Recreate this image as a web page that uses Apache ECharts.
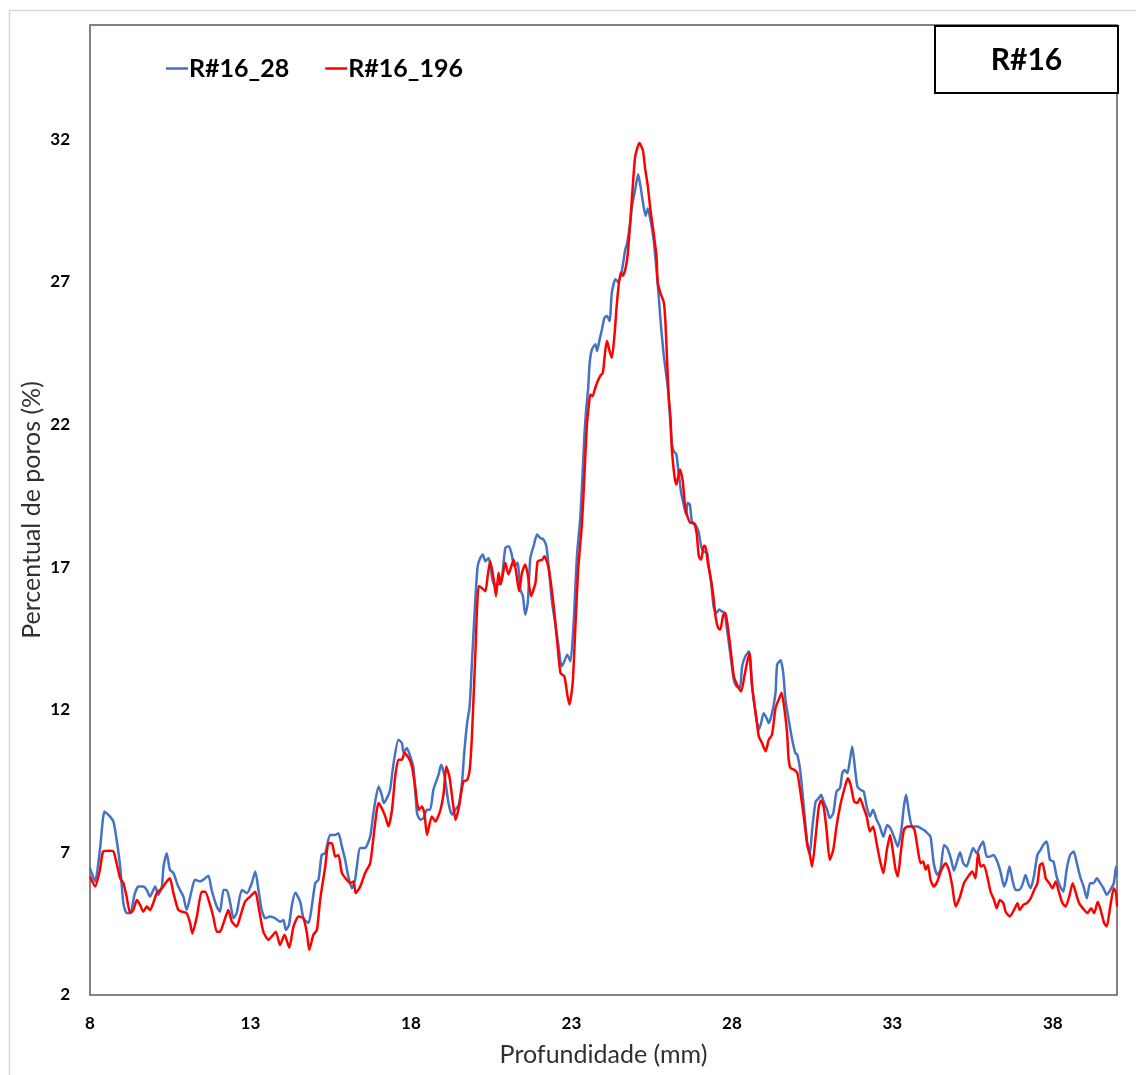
<!DOCTYPE html>
<html>
<head>
<meta charset="utf-8">
<script src="https://cdn.jsdelivr.net/npm/echarts@6/dist/echarts.min.js"></script>
<style>
  html, body { margin: 0; padding: 0; background: #ffffff; }
  #chart { width: 1136px; height: 1075px; }
</style>
</head>
<body>
<div id="chart"></div>
<script>
// Pore-percentage profiles of sample R#16 against depth (mm)
const depth28 = [
  8.00, 8.16, 8.31, 8.45, 8.57, 8.73, 8.83, 8.94, 9.04, 9.14, 9.25, 9.40, 9.51, 9.66, 9.77, 9.87,
  10.03, 10.13, 10.24, 10.29, 10.39, 10.49, 10.60, 10.75, 10.91, 11.01, 11.17, 11.27, 11.43, 11.53, 11.69, 11.79,
  11.95, 12.05, 12.16, 12.26, 12.37, 12.47, 12.57, 12.73, 12.89, 13.04, 13.15, 13.25, 13.35, 13.46, 13.61, 13.77,
  13.92, 14.03, 14.10, 14.20, 14.29, 14.40, 14.55, 14.65, 14.81, 14.91, 15.02, 15.12, 15.22, 15.33, 15.48, 15.64,
  15.74, 15.85, 15.95, 16.05, 16.16, 16.26, 16.42, 16.57, 16.73, 16.83, 16.99, 17.09, 17.15, 17.25, 17.35, 17.46,
  17.61, 17.72, 17.77, 17.87, 17.98, 18.08, 18.19, 18.29, 18.39, 18.50, 18.60, 18.70, 18.86, 18.94, 19.05, 19.17,
  19.28, 19.38, 19.49, 19.59, 19.66, 19.75, 19.83, 19.90, 20.00, 20.08, 20.16, 20.24, 20.32, 20.42, 20.47, 20.58,
  20.73, 20.84, 20.94, 21.04, 21.13, 21.22, 21.32, 21.41, 21.49, 21.56, 21.64, 21.72, 21.82, 21.93, 22.03, 22.13,
  22.22, 22.29, 22.40, 22.50, 22.60, 22.69, 22.76, 22.87, 22.97, 23.07, 23.14, 23.18, 23.28, 23.35, 23.41, 23.46,
  23.52, 23.57, 23.64, 23.75, 23.80, 23.88, 23.95, 24.03, 24.11, 24.19, 24.26, 24.37, 24.47, 24.58, 24.68, 24.73,
  24.82, 24.89, 24.99, 25.08, 25.15, 25.23, 25.31, 25.38, 25.46, 25.56, 25.65, 25.72, 25.79, 25.88, 25.96, 26.03,
  26.13, 26.19, 26.27, 26.34, 26.42, 26.50, 26.57, 26.62, 26.69, 26.76, 26.86, 26.97, 27.04, 27.12, 27.23, 27.28,
  27.35, 27.43, 27.52, 27.60, 27.68, 27.77, 27.85, 27.96, 28.06, 28.14, 28.25, 28.32, 28.42, 28.53, 28.63, 28.74,
  28.84, 28.91, 28.99, 29.08, 29.15, 29.25, 29.36, 29.41, 29.52, 29.60, 29.67, 29.77, 29.88, 29.98, 30.04, 30.14,
  30.24, 30.35, 30.43, 30.50, 30.61, 30.71, 30.78, 30.86, 30.97, 31.05, 31.16, 31.26, 31.37, 31.44, 31.51, 31.60,
  31.68, 31.75, 31.83, 31.91, 32.01, 32.11, 32.20, 32.30, 32.40, 32.51, 32.61, 32.72, 32.84, 32.94, 33.05, 33.17,
  33.28, 33.36, 33.43, 33.52, 33.62, 33.78, 33.88, 33.98, 34.09, 34.19, 34.29, 34.40, 34.50, 34.61, 34.71, 34.82,
  34.92, 35.02, 35.11, 35.21, 35.31, 35.42, 35.52, 35.63, 35.73, 35.83, 35.94, 36.04, 36.15, 36.27, 36.38, 36.48,
  36.56, 36.65, 36.74, 36.84, 36.95, 37.05, 37.15, 37.23, 37.31, 37.41, 37.52, 37.62, 37.70, 37.81, 37.91, 38.02,
  38.12, 38.23, 38.33, 38.43, 38.54, 38.65, 38.75, 38.85, 38.96, 39.06, 39.16, 39.27, 39.37, 39.48, 39.58, 39.68,
  39.79, 39.90, 39.97, 40.00
];
const pores28 = [
  6.45, 5.98, 7.09, 8.43, 8.32, 8.08, 7.44, 6.50, 5.22, 4.87, 4.87, 5.57, 5.80, 5.80, 5.68, 5.45,
  5.80, 5.51, 5.80, 6.50, 6.97, 6.39, 6.27, 5.80, 5.45, 4.98, 5.68, 6.04, 5.98, 6.04, 6.18, 5.68,
  5.10, 4.92, 5.68, 5.68, 5.22, 4.69, 4.87, 5.68, 5.57, 5.92, 6.33, 5.68, 4.98, 4.69, 4.75, 4.69,
  4.57, 4.63, 4.28, 4.45, 5.15, 5.58, 5.27, 4.69, 4.52, 5.10, 5.92, 6.04, 6.91, 6.97, 7.61, 7.61,
  7.67, 7.20, 6.74, 6.15, 5.74, 6.04, 7.15, 7.15, 7.55, 8.37, 9.31, 9.02, 8.73, 8.90, 9.19, 10.13,
  10.95, 10.83, 10.48, 10.66, 10.36, 9.95, 8.37, 8.14, 8.20, 8.49, 8.49, 9.19, 9.72, 10.07, 9.66, 8.73,
  8.32, 8.49, 8.67, 9.43, 10.48, 11.53, 12.12, 13.64, 15.74, 17.03, 17.32, 17.44, 17.20, 17.32, 17.09, 16.39,
  16.39, 16.68, 17.67, 17.73, 17.50, 17.03, 17.15, 16.21, 15.98, 15.33, 15.74, 17.32, 17.73, 18.14, 18.02, 17.97,
  17.73, 17.03, 15.74, 15.00, 14.22, 13.52, 13.64, 13.93, 13.69, 15.04, 16.68, 17.50, 18.78, 20.31, 21.71, 22.53,
  23.23, 24.16, 24.63, 24.81, 24.57, 24.98, 25.33, 25.74, 25.80, 25.62, 26.62, 27.09, 26.97, 27.44, 28.14, 28.32,
  28.96, 29.66, 30.25, 30.77, 30.36, 29.78, 29.31, 29.57, 29.19, 28.49, 27.44, 26.50, 25.45, 24.40, 23.70, 22.99,
  21.30, 21.06, 20.95, 20.31, 19.60, 19.19, 18.84, 19.25, 19.19, 18.55, 18.49, 18.20, 17.73, 17.55, 17.50, 17.03,
  16.50, 15.62, 15.39, 15.51, 15.45, 15.39, 14.81, 13.87, 13.05, 12.82, 12.76, 13.52, 13.87, 14.05, 12.82, 11.88,
  11.30, 11.53, 11.88, 11.71, 11.53, 11.88, 12.59, 13.58, 13.73, 13.29, 12.35, 11.65, 10.95, 10.48, 10.42, 9.78,
  8.61, 7.32, 6.97, 7.79, 8.78, 8.90, 9.02, 8.78, 8.49, 8.20, 8.37, 9.13, 9.25, 9.78, 9.89, 9.78,
  10.25, 10.71, 10.01, 9.31, 9.19, 9.13, 8.61, 8.26, 8.49, 8.14, 7.91, 7.55, 7.96, 7.85, 7.55, 7.20,
  7.79, 8.61, 9.02, 8.37, 7.91, 7.91, 7.85, 7.79, 7.67, 7.55, 6.62, 6.21, 6.39, 7.26, 7.15, 6.80,
  6.36, 6.70, 7.00, 6.62, 6.50, 6.85, 7.15, 6.97, 7.20, 7.38, 6.85, 6.85, 6.91, 6.68, 6.27, 5.80,
  6.04, 6.50, 6.04, 5.68, 5.68, 5.86, 6.21, 5.92, 5.74, 6.15, 6.91, 7.09, 7.26, 7.38, 6.74, 6.68,
  6.15, 5.80, 5.62, 6.39, 6.91, 7.03, 6.62, 6.15, 5.80, 5.39, 5.92, 5.92, 6.09, 5.92, 5.74, 5.51,
  5.68, 5.92, 6.50, 6.15
];

const depth196 = [
  8.00, 8.16, 8.31, 8.41, 8.62, 8.73, 8.83, 8.94, 9.04, 9.14, 9.25, 9.35, 9.46, 9.56, 9.66, 9.77,
  9.87, 9.97, 10.08, 10.24, 10.39, 10.49, 10.60, 10.75, 10.86, 11.01, 11.12, 11.19, 11.33, 11.48, 11.59, 11.74,
  11.84, 11.95, 12.05, 12.16, 12.31, 12.42, 12.57, 12.68, 12.83, 12.99, 13.15, 13.25, 13.40, 13.56, 13.66, 13.79,
  13.92, 14.06, 14.21, 14.34, 14.50, 14.65, 14.76, 14.83, 14.96, 15.07, 15.17, 15.33, 15.43, 15.54, 15.64, 15.74,
  15.85, 16.00, 16.11, 16.21, 16.28, 16.42, 16.57, 16.73, 16.83, 16.99, 17.09, 17.20, 17.30, 17.41, 17.51, 17.61,
  17.72, 17.80, 17.93, 18.03, 18.13, 18.24, 18.34, 18.42, 18.50, 18.65, 18.76, 18.91, 19.02, 19.10, 19.20, 19.30,
  19.39, 19.50, 19.63, 19.75, 19.83, 19.90, 20.00, 20.11, 20.21, 20.32, 20.39, 20.47, 20.58, 20.65, 20.73, 20.80,
  20.94, 21.04, 21.20, 21.28, 21.37, 21.46, 21.56, 21.64, 21.74, 21.88, 21.95, 22.09, 22.16, 22.29, 22.45, 22.56,
  22.66, 22.78, 22.88, 22.94, 23.04, 23.12, 23.21, 23.33, 23.41, 23.48, 23.54, 23.59, 23.66, 23.73, 23.80, 23.90,
  23.98, 24.06, 24.11, 24.19, 24.26, 24.34, 24.42, 24.53, 24.60, 24.68, 24.75, 24.84, 24.92, 24.99, 25.12, 25.23,
  25.30, 25.38, 25.46, 25.56, 25.65, 25.69, 25.77, 25.88, 25.93, 25.98, 26.03, 26.09, 26.13, 26.21, 26.27, 26.38,
  26.47, 26.53, 26.60, 26.71, 26.81, 26.90, 26.97, 27.04, 27.12, 27.17, 27.25, 27.33, 27.41, 27.49, 27.57, 27.64,
  27.73, 27.80, 27.87, 27.96, 28.06, 28.16, 28.29, 28.39, 28.47, 28.55, 28.63, 28.74, 28.84, 28.94, 29.05, 29.15,
  29.25, 29.36, 29.46, 29.55, 29.64, 29.72, 29.77, 29.83, 29.95, 30.04, 30.14, 30.24, 30.35, 30.43, 30.50, 30.61,
  30.71, 30.78, 30.86, 30.95, 31.05, 31.16, 31.26, 31.37, 31.47, 31.54, 31.61, 31.70, 31.81, 31.91, 31.99, 32.09,
  32.20, 32.30, 32.40, 32.51, 32.61, 32.72, 32.83, 32.93, 33.01, 33.10, 33.17, 33.26, 33.36, 33.47, 33.60, 33.69,
  33.78, 33.88, 33.96, 34.04, 34.11, 34.19, 34.29, 34.40, 34.53, 34.66, 34.76, 34.87, 34.97, 35.11, 35.23, 35.36,
  35.49, 35.59, 35.67, 35.75, 35.85, 35.96, 36.06, 36.17, 36.25, 36.35, 36.46, 36.53, 36.66, 36.79, 36.90, 36.97,
  37.08, 37.19, 37.31, 37.42, 37.52, 37.60, 37.68, 37.78, 37.89, 37.99, 38.09, 38.20, 38.30, 38.40, 38.51, 38.62,
  38.72, 38.82, 38.98, 39.08, 39.19, 39.29, 39.40, 39.49, 39.60, 39.68, 39.79, 39.90, 39.97, 40.00
];
const pores196 = [
  6.15, 5.80, 6.39, 7.03, 7.06, 7.03, 6.62, 6.09, 5.92, 5.45, 4.87, 4.98, 5.33, 5.16, 4.92, 5.10,
  4.98, 5.22, 5.57, 5.74, 5.98, 6.09, 5.57, 4.98, 4.92, 4.87, 4.52, 4.16, 4.75, 5.62, 5.62, 5.16,
  4.75, 4.22, 4.22, 4.52, 4.98, 4.57, 4.40, 4.75, 5.27, 5.45, 5.62, 5.10, 4.22, 3.93, 4.05, 4.22,
  3.75, 4.11, 3.66, 4.40, 4.75, 4.69, 4.16, 3.58, 4.11, 4.28, 5.33, 6.50, 7.32, 7.32, 6.85, 6.91,
  6.27, 6.04, 5.92, 5.98, 5.57, 5.80, 6.27, 6.62, 7.50, 8.73, 8.55, 8.26, 7.91, 8.49, 9.66, 10.25,
  10.25, 10.48, 10.31, 10.01, 9.31, 8.49, 8.61, 8.37, 7.61, 8.26, 8.08, 8.45, 9.08, 10.01, 9.65, 8.80,
  8.14, 8.61, 9.48, 9.54, 9.89, 11.06, 13.75, 16.33, 16.27, 16.15, 16.68, 17.20, 16.56, 15.98, 16.80, 16.39,
  17.15, 16.74, 17.26, 16.80, 16.15, 16.80, 17.09, 16.74, 15.98, 16.45, 17.20, 17.26, 17.38, 16.97, 15.62, 14.34,
  13.29, 13.17, 12.47, 12.18, 12.94, 14.81, 16.91, 18.55, 20.31, 21.94, 22.64, 23.05, 22.99, 23.23, 23.46, 23.70,
  23.81, 24.63, 24.92, 24.57, 24.34, 25.10, 26.27, 27.32, 27.21, 27.44, 27.91, 29.19, 30.48, 31.41, 31.86, 31.59,
  30.95, 30.36, 29.54, 28.73, 27.91, 26.97, 26.62, 26.27, 25.57, 24.28, 22.99, 22.18, 21.12, 20.19, 19.89, 20.42,
  20.01, 19.25, 18.84, 18.55, 18.55, 18.20, 17.38, 17.26, 17.73, 17.75, 17.15, 16.68, 16.10, 15.27, 14.87, 14.81,
  15.33, 15.39, 14.92, 14.11, 13.17, 12.88, 12.64, 13.17, 13.64, 13.99, 12.82, 11.88, 11.06, 10.83, 10.54, 10.95,
  11.12, 12.06, 12.35, 12.59, 12.00, 11.18, 10.25, 9.95, 9.89, 9.78, 9.08, 8.26, 7.26, 6.91, 6.50, 7.55,
  8.61, 8.82, 8.61, 7.79, 6.74, 7.09, 7.91, 8.61, 9.08, 9.37, 9.60, 9.37, 8.78, 8.73, 8.90, 8.61,
  8.26, 7.73, 7.91, 7.32, 6.74, 6.27, 7.09, 7.61, 7.09, 6.39, 6.15, 6.97, 7.79, 7.91, 7.91, 7.79,
  7.20, 6.62, 6.68, 6.39, 6.56, 6.04, 5.80, 5.98, 6.39, 6.62, 6.39, 5.80, 5.10, 5.45, 5.92, 6.15,
  6.33, 6.09, 6.97, 6.50, 6.56, 6.15, 5.62, 5.33, 5.04, 5.33, 5.22, 4.92, 4.75, 4.98, 5.22, 4.98,
  5.16, 5.22, 5.39, 5.68, 5.92, 6.56, 6.62, 6.09, 5.92, 5.74, 5.98, 5.57, 5.22, 5.10, 5.45, 5.92,
  5.57, 5.22, 4.98, 4.87, 5.04, 4.87, 5.27, 4.98, 4.52, 4.40, 5.10, 5.74, 5.57, 5.10
];

const seriesNames = ['R#16_28', 'R#16_196'];
const seriesColors = ['#4472C4', '#FF0000'];
const panelTitle = 'R#16';
const xAxisTitle = 'Profundidade (mm)';
const yAxisTitle = 'Percentual de poros (%)';

const zip = (xs, ys) => xs.map((x, i) => [x, ys[i]]);

const FONT = 'Lato, "Open Sans", sans-serif';
const chart = echarts.init(document.getElementById('chart'), null, { renderer: 'canvas' });

chart.setOption({
  backgroundColor: '#ffffff',
  animation: false,
  grid: {
    left: 90, top: 25, right: 19, bottom: 80,
    show: true, borderColor: '#595959', borderWidth: 1.5, backgroundColor: 'transparent'
  },
  legend: {
    left: 161, top: 51,
    itemWidth: 22, itemHeight: 2.5, itemGap: 36,
    textStyle: { fontFamily: FONT, fontWeight: 'bold', fontSize: 25, color: '#000000', padding: [0, 0, 0, -4] },
    data: seriesNames.map(n => ({ name: n, icon: 'rect' })),
    itemStyle: { borderWidth: 0 }
  },
  xAxis: {
    type: 'value', min: 8, max: 40, interval: 5,
    name: xAxisTitle, nameLocation: 'middle', nameGap: 47, nameMoveOverlap: false,
    nameTextStyle: { fontFamily: FONT, fontSize: 25, color: '#303030' },
    axisLine: { show: false }, axisTick: { show: false }, splitLine: { show: false },
    axisLabel: { showMaxLabel: false, margin: 20, fontFamily: FONT, fontWeight: 'bold', fontSize: 17, color: '#000000' }
  },
  yAxis: {
    type: 'value', min: 2, max: 36, interval: 5,
    name: yAxisTitle, nameLocation: 'middle', nameGap: 46, nameMoveOverlap: false,
    nameTextStyle: { fontFamily: FONT, fontSize: 25, color: '#303030' },
    axisLine: { show: false }, axisTick: { show: false }, splitLine: { show: false },
    axisLabel: { showMaxLabel: false, margin: 20, fontFamily: FONT, fontWeight: 'bold', fontSize: 17, color: '#000000' }
  },
  series: [
    { name: seriesNames[0], type: 'line', data: zip(depth28, pores28), symbol: 'none', smooth: 0.2,
      color: seriesColors[0], lineStyle: { width: 2.5, color: seriesColors[0] } },
    { name: seriesNames[1], type: 'line', data: zip(depth196, pores196), symbol: 'none', smooth: 0.2,
      color: seriesColors[1], lineStyle: { width: 2.5, color: seriesColors[1] } }
  ],
  graphic: [
    { type: 'rect', left: 7, top: 8, shape: { width: 1140, height: 1080 }, silent: true,
      style: { fill: 'none', stroke: '#d9d9d9', lineWidth: 1.5 }, z: -1 },
    { type: 'group', left: 934, top: 25, children: [
      { type: 'rect', shape: { x: 0, y: 0, width: 183, height: 67 },
        style: { fill: '#ffffff', stroke: '#000000', lineWidth: 2 } },
      { type: 'text', x: 91.5, y: 34,
        style: { text: panelTitle, fontFamily: FONT, fontWeight: 'bold', fontSize: 30, fill: '#000000',
                 align: 'center', verticalAlign: 'middle' } }
    ] }
  ]
});
</script>
</body>
</html>
